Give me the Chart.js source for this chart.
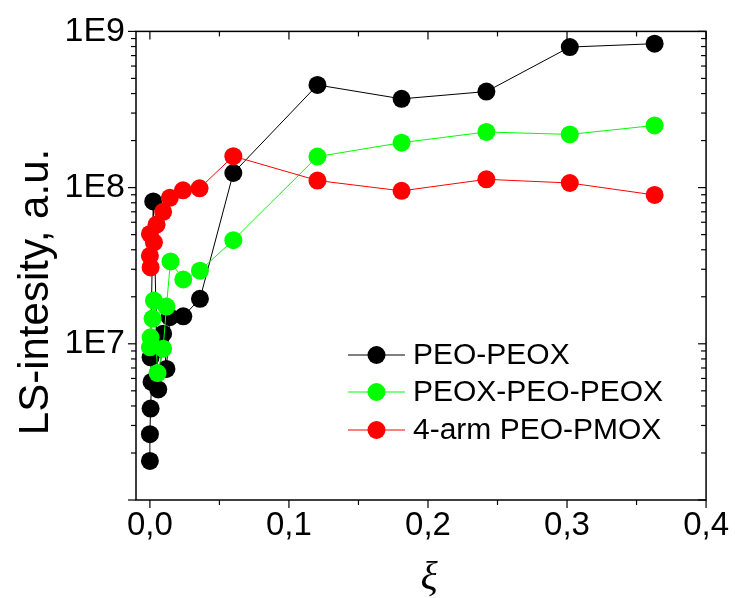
<!DOCTYPE html>
<html>
<head>
<meta charset="utf-8">
<script src="https://cdn.jsdelivr.net/npm/chart.js@4"></script>
<style>
  html, body { margin: 0; padding: 0; background: #fff; }
  #wrap { width: 735px; height: 598px; }
</style>
</head>
<body>
<div id="wrap"><canvas id="c" width="735" height="598"></canvas></div>
<script>
// ---- data ----
const seriesNames = ["PEO-PEOX", "PEOX-PEO-PEOX", "4-arm PEO-PMOX"];
const seriesColors = ["#000000", "#00ff00", "#ff0000"];

const peoPeoxX = [0.0, 0.0, 0.0005, 0.0012, 0.0005, 0.0024, 0.006, 0.0095, 0.0119, 0.0143, 0.024, 0.036, 0.060, 0.1205, 0.181, 0.242, 0.302, 0.363];
const peoPeoxY = [1.78e6, 2.64e6, 3.85e6, 5.7e6, 8.2e6, 8.15e7, 5.1e6, 1.16e7, 6.9e6, 1.48e7, 1.5e7, 1.94e7, 1.24e8, 4.54e8, 3.70e8, 4.12e8, 7.94e8, 8.34e8];

const peoxPeoPeoxX = [0.0, 0.0005, 0.0019, 0.0029, 0.0055, 0.0095, 0.0119, 0.0148, 0.024, 0.036, 0.060, 0.1205, 0.181, 0.242, 0.302, 0.363];
const peoxPeoPeoxY = [9.5e6, 1.1e7, 1.45e7, 1.89e7, 6.5e6, 9.3e6, 1.73e7, 3.37e7, 2.58e7, 2.94e7, 4.61e7, 1.58e8, 1.94e8, 2.27e8, 2.19e8, 2.5e8];

const armPmoxX = [0.0005, 0.0, 0.0029, 0.0, 0.0048, 0.0095, 0.0143, 0.0238, 0.0357, 0.060, 0.1205, 0.181, 0.242, 0.302, 0.363];
const armPmoxY = [3.08e7, 3.66e7, 4.46e7, 5.05e7, 5.8e7, 7.0e7, 8.6e7, 9.6e7, 9.9e7, 1.59e8, 1.11e8, 9.53e7, 1.13e8, 1.07e8, 8.97e7];

const xMajorTicks = [0.0, 0.1, 0.2, 0.3, 0.4];
const xMinorTicks = [0.05, 0.15, 0.25, 0.35];
const yMajorTicks = [1e6, 1e7, 1e8, 1e9];
const yLabelTicks = [1e7, 1e8, 1e9];
const yTickLabels = ["1E7", "1E8", "1E9"];

const xTitle = "\u03BE";
const yTitle = "LS-intesity, a.u.";

// ---- build ----
function pts(xs, ys) { return xs.map((v, i) => ({ x: v, y: ys[i] })); }
const allX = [peoPeoxX, peoxPeoPeoxX, armPmoxX];
const allY = [peoPeoxY, peoxPeoPeoxY, armPmoxY];

const datasets = seriesNames.map((name, i) => ({
  label: name,
  data: pts(allX[i], allY[i]),
  showLine: true,
  borderColor: seriesColors[i],
  backgroundColor: seriesColors[i],
  borderWidth: 1,
  pointRadius: 9,
  pointHoverRadius: 9,
  pointBackgroundColor: seriesColors[i],
  pointBorderWidth: 0,
  order: 3 - i
}));

const SANS = "'Liberation Sans', Arial, sans-serif";

const framePlugin = {
  id: 'frameTicks',
  beforeDatasetsDraw(chart) {
    const { ctx, chartArea: a, scales: { x, y } } = chart;
    ctx.save();
    ctx.strokeStyle = '#000';
    ctx.lineWidth = 1.5;
    ctx.strokeRect(a.left, a.top, a.right - a.left, a.bottom - a.top);
    ctx.lineWidth = 1.2;
    const seg = (x1, y1, x2, y2) => { ctx.beginPath(); ctx.moveTo(x1, y1); ctx.lineTo(x2, y2); ctx.stroke(); };
    xMajorTicks.forEach(v => { const p = x.getPixelForValue(v); seg(p, a.bottom, p, a.bottom + 8); seg(p, a.top, p, a.top + 8); });
    xMinorTicks.forEach(v => { const p = x.getPixelForValue(v); seg(p, a.bottom, p, a.bottom + 5); seg(p, a.top, p, a.top + 5); });
    yMajorTicks.forEach(v => { const p = y.getPixelForValue(v); seg(a.left - 8, p, a.left, p); seg(a.right - 8, p, a.right, p); });
    for (let d = 6; d < 9; d++) {
      for (let m = 2; m <= 9; m++) {
        const p = y.getPixelForValue(m * Math.pow(10, d));
        seg(a.left - 5, p, a.left, p); seg(a.right - 5, p, a.right, p);
      }
    }
    ctx.restore();
  },
  afterDraw(chart) {
    const { ctx } = chart;
    ctx.save();
    // axis titles
    ctx.fillStyle = '#000';
    ctx.font = "42px " + SANS;
    ctx.textAlign = 'center';
    ctx.textBaseline = 'middle';
    ctx.translate(36, 292);
    ctx.rotate(-Math.PI / 2);
    ctx.fillText(yTitle, 0, 0);
    ctx.restore();
    ctx.save();
    ctx.fillStyle = '#000';
    ctx.font = "italic 40px 'Liberation Serif', 'DejaVu Serif', serif";
    ctx.textAlign = 'center';
    ctx.textBaseline = 'alphabetic';
    ctx.fillText(xTitle, 429, 589);
    // legend
    const rows = [355, 392, 430];
    chart.data.datasets.forEach((ds, i) => {
      const yy = rows[i];
      ctx.strokeStyle = ds.borderColor;
      ctx.lineWidth = 1;
      ctx.beginPath(); ctx.moveTo(348, yy); ctx.lineTo(405, yy); ctx.stroke();
      ctx.fillStyle = ds.backgroundColor;
      ctx.beginPath(); ctx.arc(376.5, yy, 9, 0, Math.PI * 2); ctx.fill();
      ctx.fillStyle = '#000';
      ctx.font = "30px " + SANS;
      ctx.textAlign = 'left';
      ctx.textBaseline = 'middle';
      ctx.fillText(ds.label, 413, yy + 1);
    });
    ctx.restore();
  }
};

new Chart(document.getElementById('c'), {
  type: 'scatter',
  data: { datasets },
  options: {
    responsive: false,
    animation: false,
    events: [],
    layout: { padding: { top: 30, right: 25, left: 0, bottom: 0 } },
    plugins: { legend: { display: false }, tooltip: { enabled: false } },
    scales: {
      x: {
        type: 'linear',
        min: -0.01, max: 0.4,
        grid: { display: false, drawTicks: false },
        border: { display: false },
        afterBuildTicks(s) { s.ticks = xMajorTicks.map(v => ({ value: v })); },
        afterFit(s) { s.height = 98; },
        ticks: {
          padding: 6,
          color: '#000',
          font: { family: SANS, size: 33 },
          maxRotation: 0,
          autoSkip: false,
          callback: (v) => v.toFixed(1).replace('.', ',')
        }
      },
      y: {
        type: 'logarithmic',
        min: 1e6, max: 1e9,
        grid: { display: false, drawTicks: false },
        border: { display: false },
        afterBuildTicks(s) { s.ticks = yLabelTicks.map(v => ({ value: v })); },
        afterFit(s) { s.width = 136; },
        ticks: {
          padding: 11,
          color: '#000',
          font: { family: SANS, size: 34 },
          autoSkip: false,
          callback: (v) => { const k = yLabelTicks.indexOf(v); return k >= 0 ? yTickLabels[k] : ''; }
        }
      }
    }
  },
  plugins: [framePlugin]
});
</script>
</body>
</html>
